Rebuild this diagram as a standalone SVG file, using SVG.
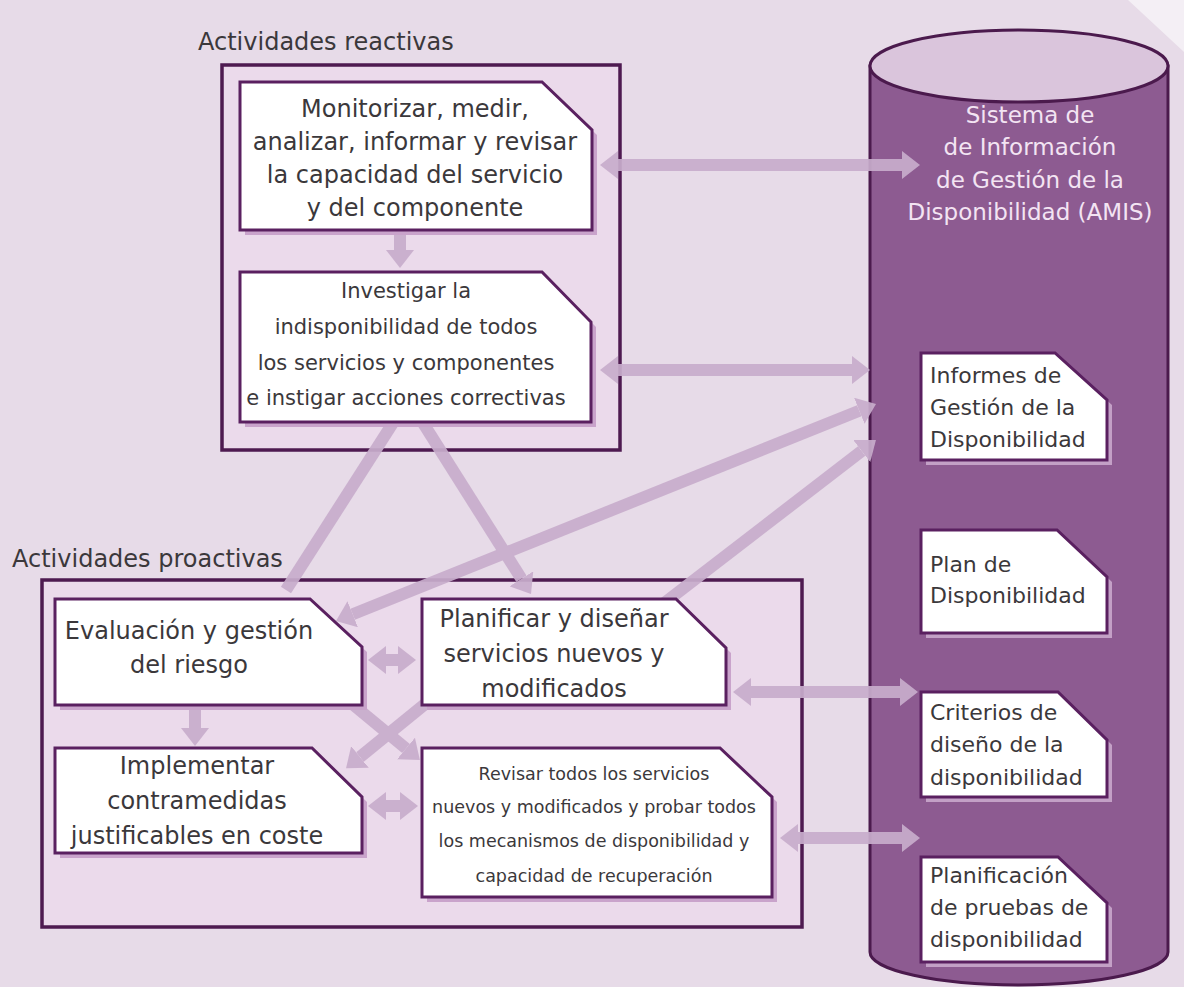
<svg xmlns="http://www.w3.org/2000/svg" width="1184" height="987" viewBox="0 0 1184 987">
<style>
.cont{fill:#ebdaeb;stroke:#4e1a50;stroke-width:3.5}
.box{fill:#ffffff;stroke:#5a2060;stroke-width:3}
.sh{fill:#c9a3cb}
.dsh{fill:#c3a0c6}
.t{font-family:"DejaVu Sans","Liberation Sans",sans-serif;fill:#3b383b}
.ct{font-family:"DejaVu Sans","Liberation Sans",sans-serif;fill:#f3e4f3;font-size:23px;text-anchor:middle}
.a{fill:none;stroke:#c8adcc;stroke-width:12}
.a2{marker-start:url(#ah);marker-end:url(#ah)}
.a1{marker-end:url(#ah)}
</style>
<defs>
<marker id="ah" markerUnits="userSpaceOnUse" markerWidth="18" markerHeight="28" refX="0" refY="14" orient="auto-start-reverse">
<path d="M0,0 L18,14 L0,28 z" fill="#c8adcc"/>
</marker>
</defs>
<rect width="1184" height="987" fill="#e7dbe8"/>
<polygon points="1128,0 1184,0 1184,52" fill="#f4eff5"/>

<g id="reactivas">
<rect class="cont" x="222" y="65" width="398" height="385"/>
<text class="t" x="198" y="50" font-size="24">Actividades reactivas</text>
</g>
<g id="proactivas">
<rect class="cont" x="42" y="580" width="760" height="347"/>
<text class="t" x="12" y="567" font-size="24">Actividades proactivas</text>
</g>

<g id="amis">
<path d="M870,66 L870,952 A149,33 0 0 0 1168,952 L1168,66 Z" fill="#8d5b91" stroke="#4b1a4d" stroke-width="3"/>
<ellipse cx="1019" cy="66" rx="149" ry="36" fill="#dac5dc" stroke="#4b1a4d" stroke-width="3"/>
<text class="ct" x="1030" y="123">Sistema de</text>
<text class="ct" x="1030" y="155">de Información</text>
<text class="ct" x="1030" y="188">de Gestión de la</text>
<text class="ct" x="1030" y="220">Disponibilidad (AMIS)</text>
</g>

<g id="connectors" opacity="0.92">
<path class="a a2" d="M618,165 H902"/>
<path class="a a2" d="M618,370 H852"/>
<path class="a a2" d="M352.7,614.3 L859.3,410.7"/>
<path class="a a1" d="M650,614 L861.7,451"/>
<path class="a a1" d="M418,415 L521.4,578.8"/>
<path class="a" d="M398,415 L286,590"/>
<path class="a a2" d="M751,692 H900"/>
<path class="a a2" d="M798,838 H902"/>
<path class="a a2" d="M386,660 H398"/>
<path class="a a2" d="M386,806 H400"/>
<path class="a a1" d="M400,230 V250"/>
<path class="a a1" d="M195,706 V728"/>
<path class="a a1" d="M430,700 L360,757"/>
<path class="a a1" d="M345,698 L406,748.5"/>
</g>

<g id="monitorizar">
<polygon class="sh" transform="translate(5,5)" points="240,82 542,82 592,130 592,230 240,230"/>
<polygon class="box" points="240,82 542,82 592,130 592,230 240,230"/>
<g class="t" font-size="24" text-anchor="middle">
<text x="415" y="117">Monitorizar, medir,</text>
<text x="415" y="150">analizar, informar y revisar</text>
<text x="415" y="183">la capacidad del servicio</text>
<text x="415" y="216">y del componente</text>
</g>
</g>

<g id="investigar">
<polygon class="sh" transform="translate(5,5)" points="240,272 542,272 591,322 591,422 240,422"/>
<polygon class="box" points="240,272 542,272 591,322 591,422 240,422"/>
<g class="t" font-size="21" text-anchor="middle">
<text x="406" y="298">Investigar la</text>
<text x="406" y="334">indisponibilidad de todos</text>
<text x="406" y="370">los servicios y componentes</text>
<text x="406" y="405">e instigar acciones correctivas</text>
</g>
</g>

<g id="evaluacion">
<polygon class="sh" transform="translate(5,5)" points="55,599 310,599 362,647 362,705 55,705"/>
<polygon class="box" points="55,599 310,599 362,647 362,705 55,705"/>
<g class="t" font-size="24" text-anchor="middle">
<text x="189" y="639">Evaluación y gestión</text>
<text x="189" y="673">del riesgo</text>
</g>
</g>

<g id="implementar">
<polygon class="sh" transform="translate(5,5)" points="55,748 312,748 362,797 362,853 55,853"/>
<polygon class="box" points="55,748 312,748 362,797 362,853 55,853"/>
<g class="t" font-size="24" text-anchor="middle">
<text x="197" y="774">Implementar</text>
<text x="197" y="809">contramedidas</text>
<text x="197" y="844">justificables en coste</text>
</g>
</g>

<g id="planificar">
<polygon class="sh" transform="translate(5,5)" points="422,599 676,599 726,648 726,705 422,705"/>
<polygon class="box" points="422,599 676,599 726,648 726,705 422,705"/>
<g class="t" font-size="24" text-anchor="middle">
<text x="554" y="627">Planificar y diseñar</text>
<text x="554" y="662">servicios nuevos y</text>
<text x="554" y="697">modificados</text>
</g>
</g>

<g id="revisar">
<polygon class="sh" transform="translate(5,5)" points="422,748 720,748 772,797 772,897 422,897"/>
<polygon class="box" points="422,748 720,748 772,797 772,897 422,897"/>
<g class="t" font-size="17.5" text-anchor="middle">
<text x="594" y="780">Revisar todos los servicios</text>
<text x="594" y="813">nuevos y modificados y probar todos</text>
<text x="594" y="847">los mecanismos de disponibilidad y</text>
<text x="594" y="882">capacidad de recuperación</text>
</g>
</g>

<g id="informes">
<polygon class="dsh" transform="translate(5,5)" points="921,353 1055,353 1107,400 1107,460 921,460"/>
<polygon class="box" points="921,353 1055,353 1107,400 1107,460 921,460"/>
<g class="t" font-size="22">
<text x="930" y="383">Informes de</text>
<text x="930" y="415">Gestión de la</text>
<text x="930" y="447">Disponibilidad</text>
</g>
</g>

<g id="plan">
<polygon class="dsh" transform="translate(5,5)" points="921,530 1057,530 1107,577 1107,633 921,633"/>
<polygon class="box" points="921,530 1057,530 1107,577 1107,633 921,633"/>
<g class="t" font-size="22">
<text x="930" y="572">Plan de</text>
<text x="930" y="603">Disponibilidad</text>
</g>
</g>

<g id="criterios">
<polygon class="dsh" transform="translate(5,5)" points="921,692 1058,692 1107,740 1107,797 921,797"/>
<polygon class="box" points="921,692 1058,692 1107,740 1107,797 921,797"/>
<g class="t" font-size="22">
<text x="930" y="720">Criterios de</text>
<text x="930" y="752">diseño de la</text>
<text x="930" y="785">disponibilidad</text>
</g>
</g>

<g id="pruebas">
<polygon class="dsh" transform="translate(5,5)" points="921,857 1058,857 1107,903 1107,962 921,962"/>
<polygon class="box" points="921,857 1058,857 1107,903 1107,962 921,962"/>
<g class="t" font-size="22">
<text x="930" y="883">Planificación</text>
<text x="930" y="915">de pruebas de</text>
<text x="930" y="947">disponibilidad</text>
</g>
</g>
</svg>
